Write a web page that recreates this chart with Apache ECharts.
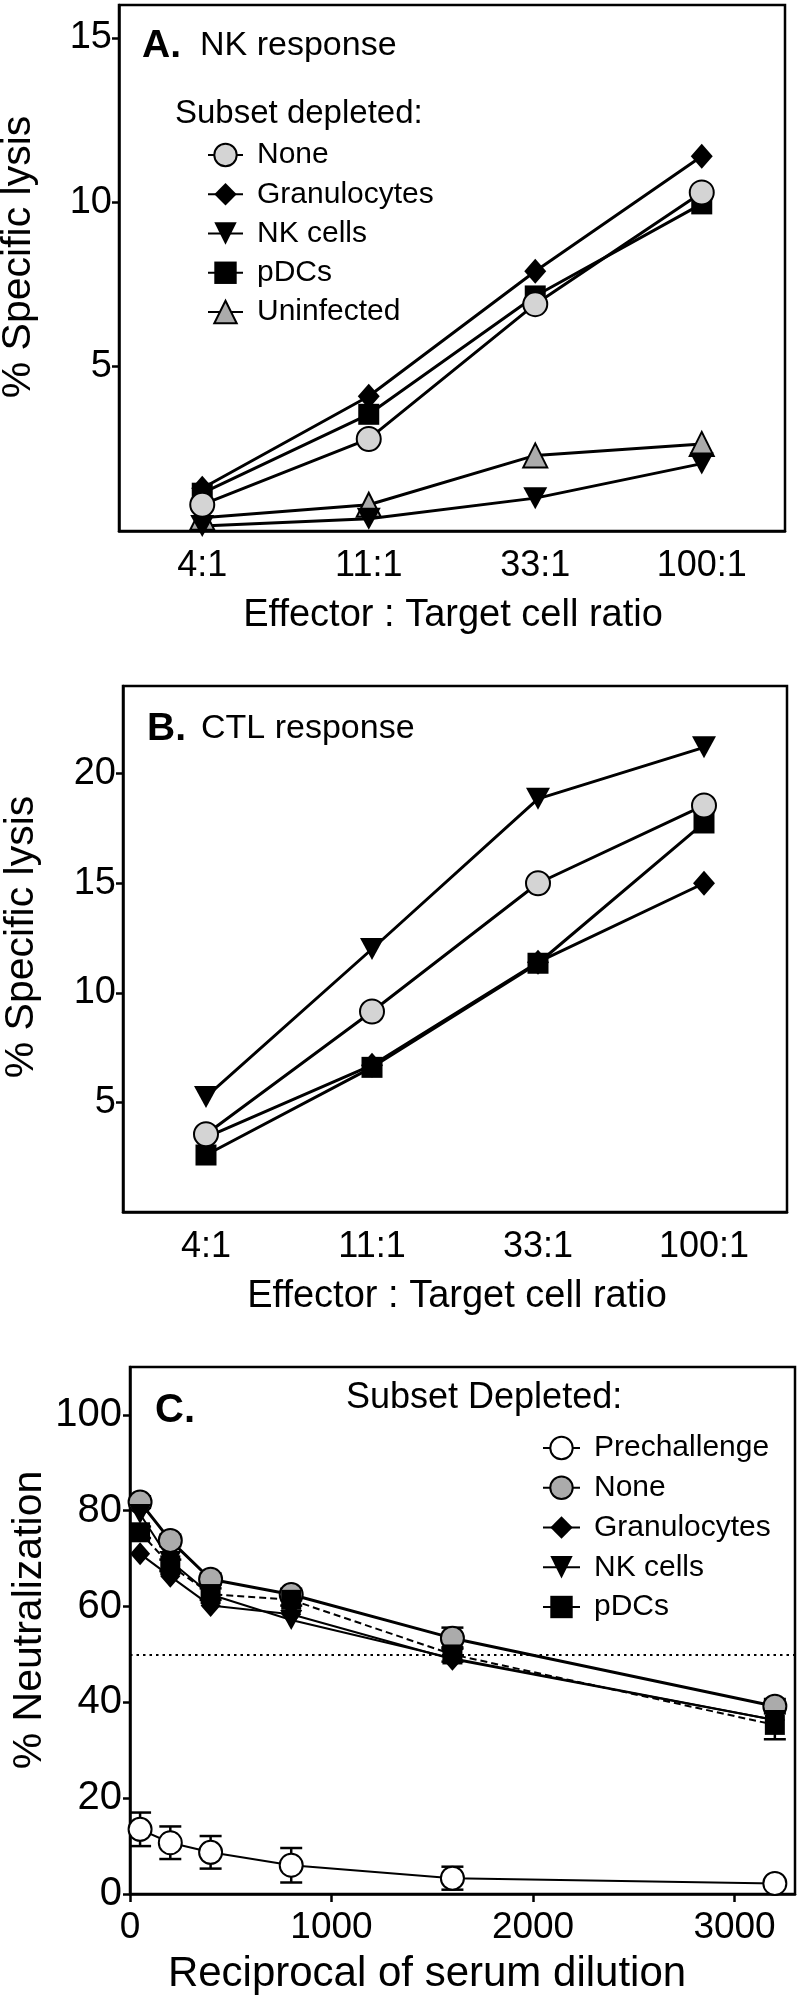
<!DOCTYPE html>
<html><head><meta charset="utf-8">
<script src="https://cdn.jsdelivr.net/npm/echarts@6/dist/echarts.min.js"></script>
<style>html,body{margin:0;padding:0;background:#fff}#c{width:800px;height:2001px}</style>
</head><body><div id="c"></div>
<script>
// ---------- data ----------
const ratioCats = ['4:1', '11:1', '33:1', '100:1'];
const aNone  = [0.8, 2.8, 6.9, 10.3];
const aGran  = [1.3, 4.1, 7.9, 11.4];
const aNK    = [0.15, 0.37, 1.0, 2.05];
const aPDC   = [1.15, 3.55, 7.15, 9.95];
const aUninf = [0.4, 0.8, 2.3, 2.65];
const aTicks = [5, 10, 15];

const bNone = [3.55, 9.15, 15.0, 18.55];
const bGran = [3.4, 6.7, 11.4, 15.0];
const bNK   = [5.25, 12.0, 18.85, 21.2];
const bPDC  = [2.6, 6.6, 11.35, 17.75];
const bTicks = [5, 10, 15, 20];

const cDil     = [50, 200, 400, 800, 1600, 3200];
const cPre     = [13.5, 10.7, 8.7, 6.0, 3.3, 2.2];
const cPreErr  = [3.5, 3.4, 3.4, 3.6, 2.4, 0.6];
const cNone    = [81.8, 73.8, 65.7, 62.5, 53.4, 39.2];
const cNoneErr = [1.2, 1.2, 1.2, 1.2, 2.2, 1.5];
const cGran    = [71.0, 66.3, 60.2, 58.4, 49.0, 36.3];
const cNK      = [79.3, 69.5, 62.5, 57.2, 49.2, 36.3];
const cPDC     = [75.5, 68.6, 62.6, 61.4, 50.0, 35.3];
const cPDCErr  = [1.2, 1.2, 1.2, 1.2, 1.5, 3.0];
const cXTicks  = [0, 1000, 2000, 3000];
const cYTicks  = [0, 20, 40, 60, 80, 100];
const cThreshold = 50;

// ---------- style ----------
const FF = '"Liberation Sans", Arial, Helvetica, sans-serif';
const triDown = 'path://M0,0 L20,0 L10,18 Z';
const LIGHT = '#d4d4d4', MID = '#ababab';

function lineSer(name, xi, data, sym, size, fill, lw, extra) {
  return Object.assign({
    type: 'line', name, xAxisIndex: xi, yAxisIndex: xi, data,
    symbol: sym, symbolSize: size, showAllSymbol: true,
    lineStyle: { color: '#000', width: lw },
    itemStyle: { color: fill, borderColor: '#000', borderWidth: fill === '#000' ? 0 : 2 },
    emphasis: { disabled: true }, animation: false
  }, extra || {});
}
function pairs(vals) { return cDil.map((x, i) => [x, vals[i]]); }
function errSeries(name, vals, errs, cap, w, z) {
  return {
    type: 'custom', name, xAxisIndex: 2, yAxisIndex: 2, z, silent: true, animation: false,
    data: cDil.map((x, i) => [x, vals[i] - errs[i], vals[i] + errs[i]]),
    encode: { x: 0, y: [1, 2] },
    renderItem(params, api) {
      const x = api.value(0);
      const lo = api.coord([x, api.value(1)]);
      const hi = api.coord([x, api.value(2)]);
      const h = cap / 2, st = { stroke: '#000', lineWidth: w };
      return { type: 'group', children: [
        { type: 'line', shape: { x1: lo[0], y1: lo[1], x2: hi[0], y2: hi[1] }, style: st },
        { type: 'line', shape: { x1: lo[0] - h, y1: lo[1], x2: lo[0] + h, y2: lo[1] }, style: st },
        { type: 'line', shape: { x1: hi[0] - h, y1: hi[1], x2: hi[0] + h, y2: hi[1] }, style: st }
      ]};
    }
  };
}
const axLine = { show: true, onZero: false, lineStyle: { color: '#000', width: 2.5 } };
function catX(gi) {
  return { type: 'category', gridIndex: gi, data: ratioCats, boundaryGap: true,
    axisLine: axLine,
    axisTick: { alignWithLabel: true, length: 8, lineStyle: { color: '#000', width: 2.5 } },
    axisLabel: { color: '#000', fontSize: 36, fontFamily: FF, margin: 17 },
    splitLine: { show: false } };
}
function valY(gi, max, ticks, fs, margin) {
  return { type: 'value', gridIndex: gi, min: 0, max,
    axisLine: axLine,
    axisTick: { show: true, length: 7, customValues: ticks, lineStyle: { color: '#000', width: 2.5 } },
    axisLabel: { customValues: ticks, color: '#000', fontSize: fs, fontFamily: FF, margin,
      formatter: v => String(v) },
    splitLine: { show: false } };
}
function txt(x, y, text, size, opts) {
  opts = opts || {};
  return { type: 'text', x, y, rotation: opts.rot || 0, silent: true,
    style: { text, font: (opts.bold ? 'bold ' : '') + size + 'px ' + FF, fill: '#000',
      textAlign: opts.align || 'left', textVerticalAlign: 'middle' } };
}
const gridBox = { show: true, borderColor: '#000', borderWidth: 2.5, backgroundColor: 'transparent' };

const option = {
  animation: false,
  grid: [
    Object.assign({ left: 119, top: 5, width: 666, height: 526 }, gridBox),
    Object.assign({ left: 123, top: 686, width: 664, height: 526 }, gridBox),
    Object.assign({ left: 130, top: 1367, width: 665, height: 527 }, gridBox)
  ],
  xAxis: [
    catX(0), catX(1),
    { type: 'value', gridIndex: 2, min: 0, max: 3300,
      axisLine: axLine,
      axisTick: { show: true, length: 8, customValues: cXTicks, lineStyle: { color: '#000', width: 2.5 } },
      axisLabel: { customValues: cXTicks, color: '#000', fontSize: 37, fontFamily: FF, margin: 15,
        formatter: v => String(v) },
      splitLine: { show: false } }
  ],
  yAxis: [
    valY(0, 16, aTicks, 38, 7),
    valY(1, 24, bTicks, 38, 7),
    valY(2, 110, cYTicks, 40, 8)
  ],
  legend: [
    { orient: 'vertical', left: 202, top: 135, itemWidth: 35, itemHeight: 28, itemGap: 9.25,
      selectedMode: false,
      data: ['None', 'Granulocytes', 'NK cells', 'pDCs', 'Uninfected'],
      textStyle: { fontSize: 30, color: '#000', fontFamily: FF, lineHeight: 28, padding: [0, 0, 0, 9] } },
    { orient: 'vertical', left: 537, top: 1428, itemWidth: 37, itemHeight: 28, itemGap: 9.75,
      selectedMode: false,
      data: [{ name: 'C:Prechallenge' }, { name: 'C:None' }, { name: 'C:Granulocytes' },
             { name: 'C:NK cells' }, { name: 'C:pDCs', lineStyle: { type: 'solid' } }],
      formatter: n => n.slice(2),
      textStyle: { fontSize: 30, color: '#000', fontFamily: FF, lineHeight: 28, padding: [0, 0, 0, 9] } }
  ],
  graphic: [
    txt(142, 46, 'A.', 39, { bold: true }),
    txt(200, 46, 'NK response', 34),
    txt(175, 114, 'Subset depleted:', 33),
    txt(147, 729, 'B.', 39, { bold: true }),
    txt(201, 729, 'CTL response', 34),
    txt(155, 1411, 'C.', 40, { bold: true }),
    txt(346, 1398, 'Subset Depleted:', 36),
    txt(19, 257, '% Specific lysis', 41, { rot: Math.PI / 2, align: 'center' }),
    txt(22, 937, '% Specific lysis', 41, { rot: Math.PI / 2, align: 'center' }),
    txt(30, 1620, '% Neutralization', 41, { rot: Math.PI / 2, align: 'center' }),
    txt(453, 616, 'Effector : Target cell ratio', 38, { align: 'center' }),
    txt(457, 1297, 'Effector : Target cell ratio', 38, { align: 'center' }),
    txt(427, 1974, 'Reciprocal of serum dilution', 42, { align: 'center' })
  ],
  series: [
    // Panel A (draw order bottom -> top)
    lineSer('Uninfected', 0, aUninf, 'triangle', 24, MID, 3),
    lineSer('NK cells', 0, aNK, triDown, [24, 22], '#000', 3),
    lineSer('Granulocytes', 0, aGran, 'diamond', [22, 25], '#000', 3),
    lineSer('pDCs', 0, aPDC, 'rect', 21, '#000', 3),
    lineSer('None', 0, aNone, 'circle', 24, LIGHT, 3),
    // Panel B
    lineSer('B:NK cells', 1, bNK, triDown, [24, 22], '#000', 3),
    lineSer('B:Granulocytes', 1, bGran, 'diamond', [22, 25], '#000', 3),
    lineSer('B:pDCs', 1, bPDC, 'rect', 21, '#000', 3),
    lineSer('B:None', 1, bNone, 'circle', 24, LIGHT, 3),
    // Panel C
    errSeries('errPre', cPre, cPreErr, 22, 2.5, 1),
    errSeries('errNone', cNone, cNoneErr, 22, 2.5, 1),
    errSeries('errPDC', cPDC, cPDCErr, 22, 2.5, 1),
    lineSer('C:Prechallenge', 2, pairs(cPre), 'circle', 23, '#fff', 2, { z: 3 }),
    lineSer('C:Granulocytes', 2, pairs(cGran), 'diamond', [20, 23], '#000', 2, { z: 3 }),
    lineSer('C:None', 2, pairs(cNone), 'circle', 23, MID, 3, { z: 3,
      markLine: { silent: true, symbol: 'none', label: { show: false }, animation: false,
        lineStyle: { type: [2.5, 4], color: '#000', width: 2 }, data: [{ yAxis: cThreshold }] } }),
    lineSer('C:pDCs', 2, pairs(cPDC), 'rect', 20, '#000', 2, { z: 3, lineStyle: { color: '#000', width: 2, type: [7, 4] } }),
    lineSer('C:NK cells', 2, pairs(cNK), triDown, [22, 20], '#000', 2, { z: 3 })
  ]
};
const chart = echarts.init(document.getElementById('c'), null, { renderer: 'canvas' });
chart.setOption(option);
</script></body></html>
